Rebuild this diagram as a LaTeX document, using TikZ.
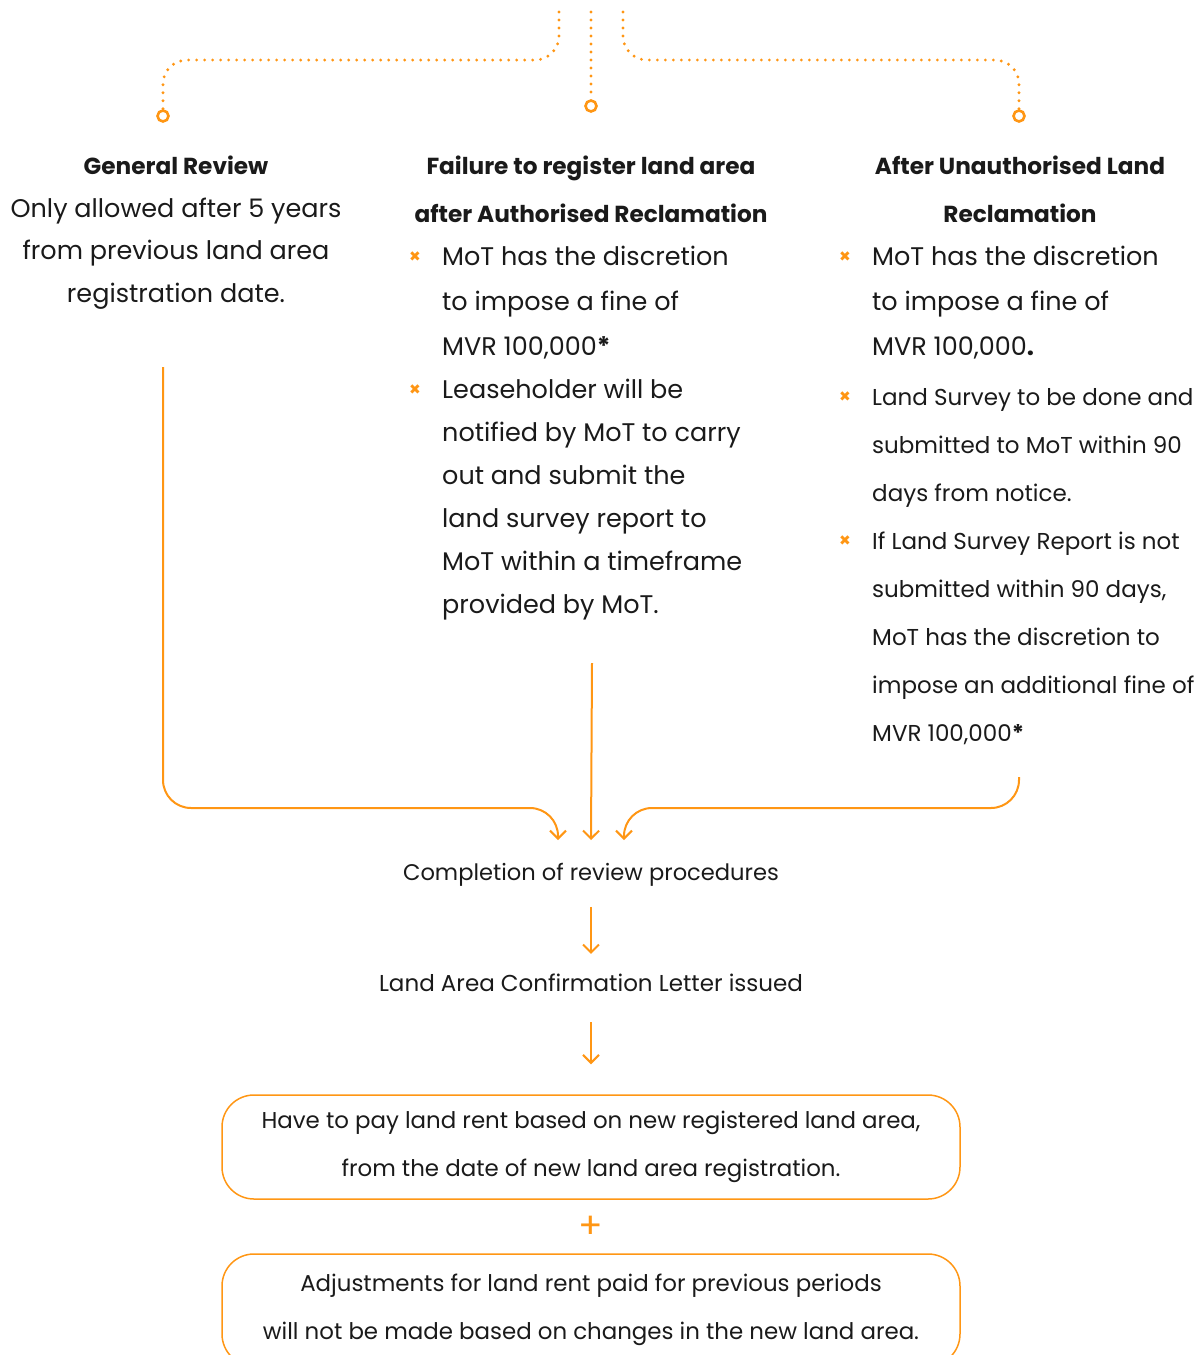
\documentclass[tikz,border=0pt]{standalone}
\usepackage{fontspec}
\setmainfont{Poppins}
\newfontfamily\symfont{DejaVu Sans}
\usetikzlibrary{positioning,arrows.meta}
\definecolor{mvorange}{HTML}{FF9614}
\definecolor{mvtext}{HTML}{1A1A1A}

\begin{document}
\begin{tikzpicture}[x=1pt,y=-1pt,
  every node/.style={text=mvtext, inner sep=0pt},
  dotline/.style={mvorange, line width=3.2pt, line cap=round, dash pattern=on 0pt off 8pt, rounded corners=24pt},
  pin/.style={circle, draw=mvorange, line width=2.6pt, fill=white, minimum size=11pt},
  head/.style={font=\bfseries\fontsize{23.2}{48}\selectfont, align=center, anchor=base},
  body/.style={font=\fontsize{25.5}{45}\selectfont, align=left, anchor=base west},
  small/.style={font=\fontsize{23}{48}\selectfont, align=left, anchor=base west},
  bulletmark/.style={text=mvorange, font=\symfont\fontsize{14}{14}\selectfont},
  flow/.style={mvorange, line width=2pt, rounded corners=28pt, -{Straight Barb[length=8pt,width=16pt]}},
  step box/.style={draw=mvorange, line width=1.5pt, rounded corners=32pt, minimum width=738pt, minimum height=104pt, align=center, font=\fontsize{22.9}{48}\selectfont}]
\useasboundingbox (0,0) rectangle (1203,1355);

% top branches
\node[pin] (pGen)  at (163,116) {};
\node[pin] (pFail) at (591,106) {};
\node[pin] (pAft)  at (1019,116) {};
\coordinate (tGen)  at (559,12);
\coordinate (tFail) at (591,12);
\coordinate (tAft)  at (623,12);
\draw[dotline] (tGen) |- (163,60) -- (pGen);
\draw[dotline] (tFail) -- (pFail);
\draw[dotline] (tAft) |- (1019,60) -- (pAft);

% general review
\node[head] (hGen) at (176,174) {General Review};
\node[font=\fontsize{25.5}{42.5}\selectfont, align=center, anchor=base] (gen) at (176,302)
  {Only allowed after 5 years\\from previous land area\\registration date.};

% failure to register
\node[head] (hFail) at (591,222) {Failure to register land area\\after Authorised Reclamation};
\node[body] (f1) at (442,355) {MoT has the discretion\\to impose a fine of\\MVR 100,000\textbf{*}};
\node[body, font=\fontsize{25.5}{43}\selectfont] (f2) at (442,613) {Leaseholder will be\\notified by MoT to carry\\out and submit the\\land survey report to\\MoT within a timeframe\\provided by MoT.};
\node[bulletmark] at (415,257) {✖};
\node[bulletmark] at (415,390) {✖};

% after unauthorised
\node[head] (hAft) at (1020,222) {After Unauthorised Land\\Reclamation};
\node[body] (a1) at (872,355) {MoT has the discretion\\to impose a fine of\\MVR 100,000\textbf{.}};
\node[small] (a2) at (872,501) {Land Survey to be done and\\submitted to MoT within 90\\days from notice.};
\node[small] (a3) at (872,741) {If Land Survey Report is not\\submitted within 90 days,\\MoT has the discretion to\\impose an additional fine of\\MVR 100,000\textbf{*}};
\node[bulletmark] at (845,257) {✖};
\node[bulletmark] at (845,397) {✖};
\node[bulletmark] at (845,541) {✖};

% outcome
\node[font=\fontsize{22.6}{24}\selectfont] (done) at (591,875) {Completion of review procedures};
\node[font=\fontsize{23}{24}\selectfont] (letter) at (591,983) {Land Area Confirmation Letter issued};
\node[step box] (rent) at (591,1147) {Have to pay land rent based on new registered land area,\\from the date of new land area registration.};
\node[text=mvorange, font=\fontsize{36}{36}\selectfont] (plus) at (591,1227) {+};
\node[step box, minimum height=112pt] (adj) at (591,1310) {Adjustments for land rent paid for previous periods\\will not be made based on changes in the new land area.};

\coordinate (sGen) at (163,367);
\coordinate (sFail) at (592,663);
\coordinate (sAft) at (1019,777);
\draw[flow] (sGen) |- (558,808) -- (558,840);
\draw[flow] (sFail) -- (591,840);
\draw[flow] (sAft) -- (1019,808) -- (624,808) -- (624,840);
\draw[flow, rounded corners=0pt, shorten <=20pt, shorten >=20pt] (done) -- (letter);
\draw[flow, rounded corners=0pt, shorten <=30pt, shorten >=30pt] (letter) -- (rent);
\end{tikzpicture}
\end{document}
